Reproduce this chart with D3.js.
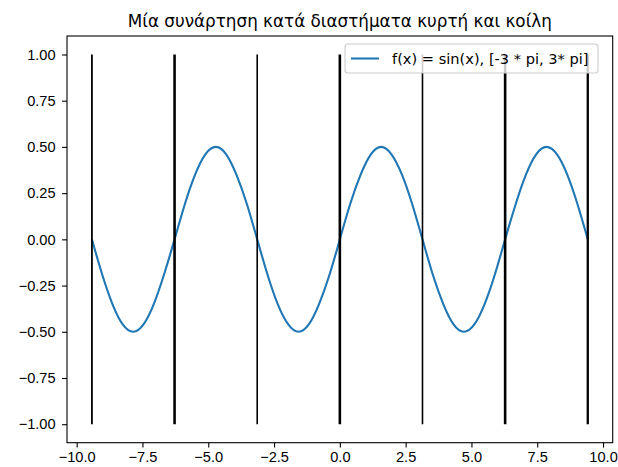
<!DOCTYPE html>
<html>
<head>
<meta charset="utf-8">
<script src="https://cdn.jsdelivr.net/npm/d3@7"></script>
<style>
  body { margin: 0; background: #fff; }
  svg { font-family: "DejaVu Sans", sans-serif; }
  .tick text { font-size: 14.6px; fill: #000; }
  .tick line { stroke: #000; stroke-width: 1.1; }
  .domain { display: none; }
</style>
</head>
<body>
<svg id="chart" width="618" height="467"></svg>
<script>
// curve samples (step pi/8 from -3pi to 3pi)
const xs = [
  -9.42, -9.03, -8.64, -8.25, -7.85, -7.46, -7.07, -6.68,
  -6.28, -5.89, -5.50, -5.11, -4.71, -4.32, -3.93, -3.53,
  -3.14, -2.75, -2.36, -1.96, -1.57, -1.18, -0.79, -0.39,
  0.00, 0.39, 0.79, 1.18, 1.57, 1.96, 2.36, 2.75,
  3.14, 3.53, 3.93, 4.32, 4.71, 5.11, 5.50, 5.89,
  6.28, 6.68, 7.07, 7.46, 7.85, 8.25, 8.64, 9.03, 9.42
];
const ys = [
  0, -0.19, -0.35, -0.46, -0.5, -0.46, -0.35, -0.19,
  0, 0.19, 0.35, 0.46, 0.5, 0.46, 0.35, 0.19,
  0, -0.19, -0.35, -0.46, -0.5, -0.46, -0.35, -0.19,
  0, 0.19, 0.35, 0.46, 0.5, 0.46, 0.35, 0.19,
  0, -0.19, -0.35, -0.46, -0.5, -0.46, -0.35, -0.19,
  0, 0.19, 0.35, 0.46, 0.5, 0.46, 0.35, 0.19, 0
];

// vertical black lines (thicker ones look drawn twice)
const vlineX = [-9.42, -6.28, -3.14, 0, 3.14, 6.28, 9.42];
const vlineW = [1.8, 2.6, 1.6, 2.6, 1.6, 2.6, 2.3];
const vlineY = [-1, 1];

const xTicks = [-10, -7.5, -5, -2.5, 0, 2.5, 5, 7.5, 10];
const yTicks = [-1, -0.75, -0.5, -0.25, 0, 0.25, 0.5, 0.75, 1];

const titleText = "Μία συνάρτηση κατά διαστήματα κυρτή και κοίλη";
const legendText = "f(x) = sin(x), [-3 * pi, 3* pi]";

const margin = {top: 36, right: 5.3, bottom: 24.3, left: 67};
const W = 618, H = 467;

const svg = d3.select("#chart");

const x = d3.scaleLinear().domain([-10.367, 10.367]).range([margin.left, W - margin.right]);
const y = d3.scaleLinear().domain([-1.1, 1.1]).range([H - margin.bottom, margin.top]);

const fmtMinus = s => s.replace("-", "\u2212");

// axes
svg.append("g")
    .attr("transform", `translate(0,${H - margin.bottom})`)
    .call(d3.axisBottom(x).tickValues(xTicks).tickSize(4.9).tickPadding(4.5)
        .tickFormat(d => fmtMinus(d3.format(".1f")(d))));

svg.append("g")
    .attr("transform", `translate(${margin.left},0)`)
    .call(d3.axisLeft(y).tickValues(yTicks).tickSize(4.9).tickPadding(6.5)
        .tickFormat(d => fmtMinus(d3.format(".2f")(d))));

// curve
const line = d3.line()
    .x((d, i) => x(xs[i]))
    .y(d => y(d))
    .curve(d3.curveNatural);

svg.append("path")
    .datum(ys)
    .attr("d", line)
    .attr("fill", "none")
    .attr("stroke", "#1f77b4")
    .attr("stroke-width", 2.1);

// vertical lines
svg.append("g")
    .selectAll("line")
    .data(vlineX)
    .enter().append("line")
    .attr("x1", d => x(d))
    .attr("x2", d => x(d))
    .attr("y1", y(vlineY[0]))
    .attr("y2", y(vlineY[1]))
    .attr("stroke", "#000")
    .attr("stroke-width", (d, i) => vlineW[i]);

// frame
svg.append("rect")
    .attr("x", margin.left)
    .attr("y", margin.top)
    .attr("width", W - margin.left - margin.right)
    .attr("height", H - margin.top - margin.bottom)
    .attr("fill", "none")
    .attr("stroke", "#000")
    .attr("stroke-width", 1.1);

// title
svg.append("text")
    .attr("x", (margin.left + W - margin.right) / 2)
    .attr("y", margin.top - 9)
    .attr("text-anchor", "middle")
    .attr("font-size", 16.8)
    .text(titleText);

// legend
const lg = svg.append("g");
lg.append("rect")
    .attr("x", 345).attr("y", 44)
    .attr("width", 253).attr("height", 29)
    .attr("rx", 3)
    .attr("fill", "#fff").attr("fill-opacity", 0.8)
    .attr("stroke", "#cccccc").attr("stroke-width", 1.1);
lg.append("line")
    .attr("x1", 351).attr("x2", 379)
    .attr("y1", 58.5).attr("y2", 58.5)
    .attr("stroke", "#1f77b4").attr("stroke-width", 2.1);
lg.append("text")
    .attr("x", 392).attr("y", 63.8)
    .attr("font-size", 14.6)
    .text(legendText);
</script>
</body>
</html>
